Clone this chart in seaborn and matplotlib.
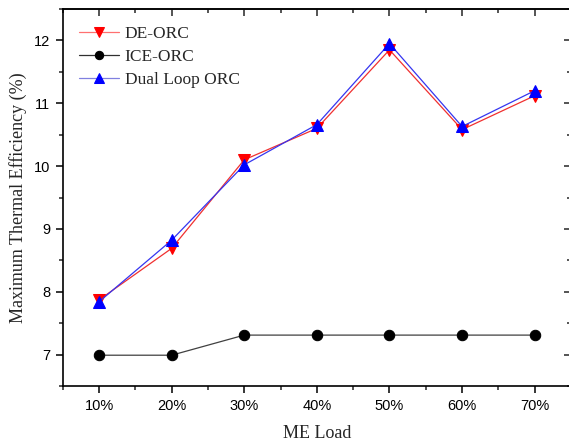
import matplotlib
matplotlib.use("Agg")
import matplotlib.pyplot as plt
import seaborn as sns
import pandas as pd
from matplotlib.ticker import MultipleLocator

# ---- data ----
loads = ["10%", "20%", "30%", "40%", "50%", "60%", "70%"]
de_orc = [7.87, 8.69, 10.10, 10.60, 11.85, 10.58, 11.12]
ice_orc = [6.99, 6.99, 7.31, 7.31, 7.31, 7.31, 7.31]
dual_orc = [7.84, 8.82, 10.02, 10.66, 11.95, 10.63, 11.20]

sns.set_theme(style="ticks")
plt.rcParams["font.family"] = ["Liberation Sans", "DejaVu Sans"]

W, H = 569, 442
fig = plt.figure(figsize=(W / 100, H / 100), dpi=100)
ax_l, ax_r, ax_t, ax_b = 62.7, 571.0, 9.0, 386.0
ax = fig.add_axes([ax_l / W, 1 - ax_b / H, (ax_r - ax_l) / W, (ax_b - ax_t) / H])

pos = list(range(1, len(loads) + 1))
df = pd.DataFrame({"pos": pos, "DE-ORC": de_orc, "ICE-ORC": ice_orc, "Dual Loop ORC": dual_orc})

sns.lineplot(data=df, x="pos", y="ICE-ORC", ax=ax, color="#404040", lw=0.9,
             marker="o", markersize=7.5, markeredgecolor="black", markerfacecolor="black",
             label="ICE-ORC")
sns.lineplot(data=df, x="pos", y="DE-ORC", ax=ax, color="#f03030", lw=0.9,
             marker="v", markersize=9, markeredgecolor="red", markerfacecolor="red",
             label="DE-ORC")
sns.lineplot(data=df, x="pos", y="Dual Loop ORC", ax=ax, color="#3535f0", lw=0.9,
             marker="^", markersize=9, markeredgecolor="blue", markerfacecolor="blue",
             label="Dual Loop ORC")

ax.set_xlim(0.5, 7.5)
ax.set_ylim(6.5, 12.5)
ax.set_xticks(pos)
ax.set_xticklabels(loads)
ax.xaxis.set_minor_locator(MultipleLocator(0.5))
ax.yaxis.set_major_locator(MultipleLocator(1))
ax.yaxis.set_minor_locator(MultipleLocator(0.5))

for s in ax.spines.values():
    s.set_visible(True)
    s.set_linewidth(1.2)
    s.set_color("black")

ax.tick_params(axis="both", which="major", direction="out", length=5, width=1.1,
               labelsize=10.5, colors="black", top=False, right=False, pad=4)
ax.tick_params(axis="both", which="minor", direction="out", length=3, width=1.1,
               top=False, right=False)
for t in ax.get_xticklabels() + ax.get_yticklabels():
    t.set_family(["Liberation Sans", "DejaVu Sans"])

axt = ax.secondary_xaxis("top")
axt.set_xticks(pos)
axt.xaxis.set_minor_locator(MultipleLocator(0.5))
axt.tick_params(which="major", direction="in", length=5, width=1.1, labeltop=False)
axt.tick_params(which="minor", direction="in", length=3, width=1.1)
axt.set_xticklabels([])
axr = ax.secondary_yaxis("right")
axr.yaxis.set_major_locator(MultipleLocator(1))
axr.yaxis.set_minor_locator(MultipleLocator(0.5))
axr.tick_params(which="major", direction="in", length=5, width=1.1, labelright=False)
axr.tick_params(which="minor", direction="in", length=3, width=1.1)

serif = ["Liberation Serif", "DejaVu Serif"]
ax.set_xlabel("ME Load", fontsize=13, family=serif, labelpad=9)
ax.set_ylabel("Maximum Thermal Efficiency (%)", fontsize=13, family=serif, labelpad=5)

handles, labels = ax.get_legend_handles_labels()
order = [labels.index(l) for l in ["DE-ORC", "ICE-ORC", "Dual Loop ORC"]]
leg = ax.legend([handles[i] for i in order], [labels[i] for i in order],
                loc="upper left", frameon=False, prop={"family": serif, "size": 12.5},
                handlelength=2.3, handletextpad=0.35, labelspacing=0.4,
                borderpad=0, borderaxespad=0, markerscale=0.8,
                bbox_to_anchor=(16 / (ax_r - ax_l), 1 - 17 / (ax_b - ax_t)))
leg_colors = ["#ff7070", "#303030", "#8080e0"]
for line, c in zip(leg.get_lines(), leg_colors):
    line.set_color(c)

fig.savefig("out.png", dpi=100)
